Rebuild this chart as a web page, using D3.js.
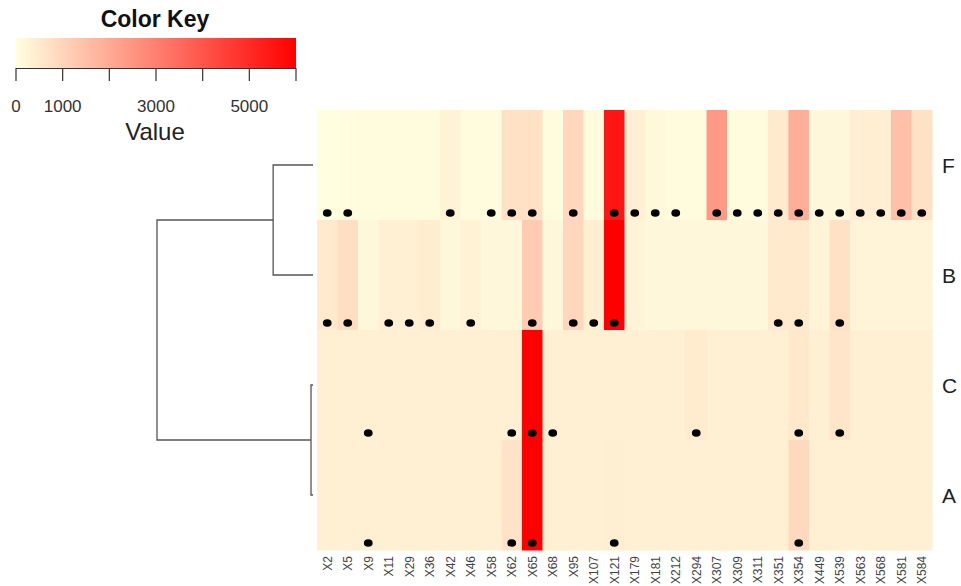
<!DOCTYPE html>
<html>
<head>
<meta charset="utf-8">
<script src="https://cdn.jsdelivr.net/npm/d3@7"></script>
<style>
  html, body { margin: 0; padding: 0; background: #ffffff; }
  svg { display: block; font-family: "Liberation Sans", Arial, sans-serif; }
</style>
</head>
<body>
<svg id="chart" width="961" height="586"></svg>
<script>
// Variables (columns) and samples (rows, in dendrogram order)
const columns = ["X2","X5","X9","X11","X29","X36","X42","X46","X58","X62",
                 "X65","X68","X95","X107","X121","X179","X181","X212","X294","X307",
                 "X309","X311","X351","X354","X449","X539","X563","X568","X581","X584"];
const rows = ["F", "B", "C", "A"];

// Cell values per row
const valuesF = [30, 50, 60, 60, 60, 80, 300, 80, 60, 700,
                 700, 60, 950, 100, 5500, 350, 150, 100, 80, 2400,
                 60, 60, 500, 1900, 200, 200, 400, 400, 1500, 700];
const valuesB = [500, 750, 200, 350, 350, 420, 200, 300, 200, 200,
                 1200, 200, 950, 380, 6000, 250, 200, 200, 200, 200,
                 200, 200, 500, 500, 250, 700, 250, 250, 250, 250];
const valuesC = [350, 350, 350, 350, 350, 350, 350, 350, 350, 350,
                 6000, 350, 350, 350, 350, 350, 350, 350, 450, 350,
                 350, 350, 350, 550, 350, 600, 350, 350, 350, 350];
const valuesA = [350, 350, 350, 350, 350, 350, 350, 350, 350, 650,
                 6000, 350, 350, 350, 370, 350, 350, 350, 350, 350,
                 350, 350, 350, 900, 350, 350, 350, 350, 350, 350];

// Columns flagged with a dot in each row
const dotsF = ["X2","X5","X42","X58","X62","X65","X95","X121","X179","X181","X212",
               "X307","X309","X311","X351","X354","X449","X539","X563","X568","X581","X584"];
const dotsB = ["X2","X5","X11","X29","X36","X46","X65","X95","X107","X121","X351","X354","X539"];
const dotsC = ["X9","X62","X65","X68","X294","X354","X539"];
const dotsA = ["X9","X62","X65","X121","X354"];

// Row dendrogram: merged pairs and their heights
const mergeLeft   = ["F", "C", "FB"];
const mergeRight  = ["B", "A", "CA"];
const mergeHeight = [2300, 115, 9000];

// Color key
const keyDomain = [0, 6000];
const keyTicks = [0, 1000, 2000, 3000, 4000, 5000, 6000];
const keyTickLabels = [0, 1000, 3000, 5000];

const valuesByRow = { F: valuesF, B: valuesB, C: valuesC, A: valuesA };
const dotsByRow = { F: dotsF, B: dotsB, C: dotsC, A: dotsA };

const svg = d3.select("#chart");

// Layout
const hm = { left: 317, right: 932, top: 110, bottom: 550 };

const x = d3.scaleBand().domain(columns).range([hm.left, hm.right]).padding(0);
const y = d3.scaleBand().domain(rows).range([hm.top, hm.bottom]).padding(0);
const color = d3.scaleLinear().domain(keyDomain).range(["#FFFFE0", "#FF0000"]).clamp(true);

// Heatmap cells
const cells = [];
rows.forEach(r => columns.forEach((c, i) => cells.push({ row: r, col: c, v: valuesByRow[r][i] })));

svg.append("g").selectAll("rect")
  .data(cells)
  .join("rect")
  .attr("x", d => x(d.col))
  .attr("y", d => y(d.row))
  .attr("width", x.bandwidth() + 0.5)
  .attr("height", y.bandwidth() + 0.5)
  .attr("fill", d => color(d.v));

// Dots near the bottom of each row
const dots = [];
rows.forEach(r => dotsByRow[r].forEach(c => dots.push({ row: r, col: c })));

svg.append("g").selectAll("ellipse")
  .data(dots)
  .join("ellipse")
  .attr("cx", d => x(d.col) + x.bandwidth() / 2)
  .attr("cy", d => y(d.row) + y.bandwidth() - 7)
  .attr("rx", 4.4)
  .attr("ry", 3.8)
  .attr("fill", "#000");

// Row labels
svg.append("g").selectAll("text")
  .data(rows)
  .join("text")
  .attr("x", hm.right + 10)
  .attr("y", d => y(d) + y.bandwidth() / 2)
  .attr("dy", "0.36em")
  .attr("font-size", 21)
  .attr("fill", "#222")
  .text(d => d);

// Column labels, rotated
svg.append("g").selectAll("text")
  .data(columns)
  .join("text")
  .attr("transform", d => `translate(${x(d) + x.bandwidth() / 2},${hm.bottom + 6}) rotate(-90)`)
  .attr("text-anchor", "end")
  .attr("dy", "0.36em")
  .attr("font-size", 12)
  .attr("fill", "#444")
  .text(d => d);

// Row dendrogram
const hx = d3.scaleLinear().domain([0, mergeHeight[2]]).range([313, 157]);
const nodes = {};
rows.forEach(r => { nodes[r] = { y: y(r) + y.bandwidth() / 2, h: 0 }; });
const dendro = svg.append("g").attr("fill", "none").attr("stroke", "#555").attr("stroke-width", 1.3);
mergeLeft.forEach((l, i) => {
  const a = nodes[l], b = nodes[mergeRight[i]], h = mergeHeight[i];
  const xm = hx(h);
  dendro.append("path")
    .attr("d", `M${hx(a.h)},${a.y}H${xm}V${b.y}H${hx(b.h)}`);
  nodes[l + mergeRight[i]] = { y: (a.y + b.y) / 2, h: h };
});

// Color key
const kx = d3.scaleLinear().domain(keyDomain).range([16, 296]);
const key = svg.append("g");
const grad = svg.append("defs").append("linearGradient").attr("id", "keygrad");
d3.range(0, 1.0001, 0.1).forEach(t => {
  grad.append("stop").attr("offset", t).attr("stop-color", color(keyDomain[0] + t * (keyDomain[1] - keyDomain[0])));
});
key.append("rect")
  .attr("x", kx(keyDomain[0]))
  .attr("y", 38)
  .attr("width", kx(keyDomain[1]) - kx(keyDomain[0]))
  .attr("height", 30)
  .attr("fill", "url(#keygrad)");

key.append("line")
  .attr("x1", kx(keyDomain[0])).attr("x2", kx(keyDomain[1]))
  .attr("y1", 68.5).attr("y2", 68.5)
  .attr("stroke", "#333").attr("stroke-width", 1.2);
key.selectAll("line.tick")
  .data(keyTicks)
  .join("line")
  .attr("class", "tick")
  .attr("x1", d => kx(d)).attr("x2", d => kx(d))
  .attr("y1", 68).attr("y2", 81)
  .attr("stroke", "#333").attr("stroke-width", 1.2);
key.selectAll("text.ticklabel")
  .data(keyTickLabels)
  .join("text")
  .attr("class", "ticklabel")
  .attr("x", d => kx(d))
  .attr("y", 112)
  .attr("text-anchor", "middle")
  .attr("font-size", 17)
  .attr("fill", "#333")
  .text(d => d);

key.append("text")
  .attr("x", 155).attr("y", 27)
  .attr("text-anchor", "middle")
  .attr("font-size", 23)
  .attr("font-weight", "bold")
  .attr("fill", "#111")
  .text("Color Key");

key.append("text")
  .attr("x", 155).attr("y", 140)
  .attr("text-anchor", "middle")
  .attr("font-size", 24)
  .attr("fill", "#222")
  .text("Value");
</script>
</body>
</html>
